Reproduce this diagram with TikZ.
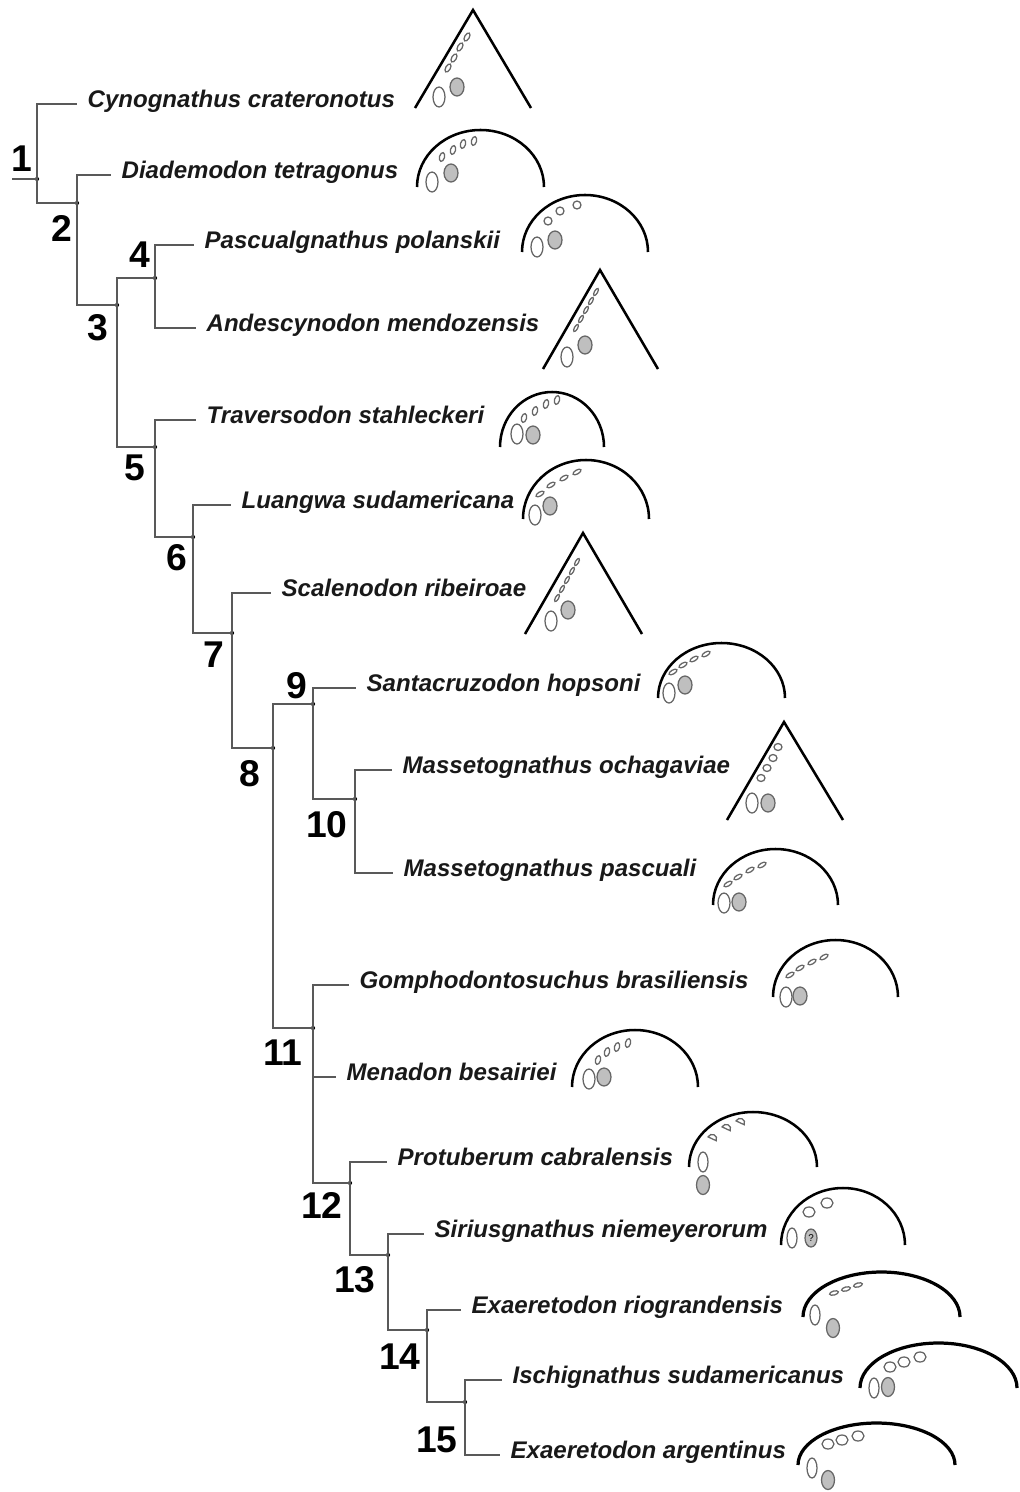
\documentclass[tikz,border=0pt]{standalone}
\usepackage{fontspec}
\setmainfont{Liberation Sans}

\begin{document}
\begin{tikzpicture}[x=0.025cm, y=-0.025cm]
        \tikzset{taxon/.style = {anchor=west, inner xsep=0.26cm, inner ysep=0pt, text height=0.74em, text depth=0.2em,
                                 font=\fontsize{17.1}{20}\selectfont\bfseries\itshape, text=black!90}}
        \tikzset{clade/.style = {circle, fill=black, inner sep=0pt, minimum size=3pt}}
        \tikzset{num/.style = {font=\fontsize{26.5}{30}\selectfont\bfseries, inner sep=0pt}}
        \tikzset{branch/.style = {draw=black!65, line width=0.9pt}}
        \tikzset{shell/.style = {draw=black, line width=1.8pt, line join=miter}}
        \tikzset{cusp/.style = {draw=black!60, line width=0.9pt, fill=white}}
        \tikzset{molar/.style = {draw=black!60, line width=0.9pt, fill=black!25}}
        \useasboundingbox (0,0) rectangle (1019,1492);
        % clades
        \coordinate (root) at (12,179);
        \node[clade] (n1) at (37,179) {};
        \node[clade] (n2) at (77,203) {};
        \node[clade] (n3) at (117,305) {};
        \node[clade] (n4) at (155,278) {};
        \node[clade] (n5) at (155,447) {};
        \node[clade] (n6) at (193,537) {};
        \node[clade] (n7) at (232,633) {};
        \node[clade] (n8) at (273,748) {};
        \node[clade] (n9) at (313,704) {};
        \node[clade] (n10) at (355,799) {};
        \node[clade] (n11) at (313,1028) {};
        \node[clade] (n12) at (350,1183) {};
        \node[clade] (n13) at (388,1255) {};
        \node[clade] (n14) at (427,1330) {};
        \node[clade] (n15) at (465,1402) {};
        % clade numbers
        \node[num] (l1) at (22,159) {1};
        \node[num] (l2) at (62,228) {2};
        \node[num] (l3) at (98,328) {3};
        \node[num] (l4) at (140,255) {4};
        \node[num] (l5) at (135,468) {5};
        \node[num] (l6) at (177,558) {6};
        \node[num] (l7) at (214,655) {7};
        \node[num] (l8) at (250,774) {8};
        \node[num] (l9) at (297,686) {9};
        \node[num] (l10) at (327,825) {10};
        \node[num] (l11) at (283,1053) {11};
        \node[num] (l12) at (322,1205) {12};
        \node[num] (l13) at (355,1280) {13};
        \node[num] (l14) at (400,1357) {14};
        \node[num] (l15) at (437,1440) {15};
        % taxa
        \node[taxon] (cyno) at (77,104) {Cynognathus crateronotus};
        \node[taxon] (diad) at (111,175) {Diademodon tetragonus};
        \node[taxon] (pasc) at (194,245) {Pascualgnathus polanskii};
        \node[taxon] (ande) at (196,328) {Andescynodon mendozensis};
        \node[taxon] (trav) at (196,420) {Traversodon stahleckeri};
        \node[taxon] (luan) at (231,505) {Luangwa sudamericana};
        \node[taxon] (scal) at (271,593) {Scalenodon ribeiroae};
        \node[taxon] (sant) at (356,688) {Santacruzodon hopsoni};
        \node[taxon] (moch) at (392,770) {Massetognathus ochagaviae};
        \node[taxon] (mpas) at (393,873) {Massetognathus pascuali};
        \node[taxon] (gomp) at (349,985) {Gomphodontosuchus brasiliensis};
        \node[taxon] (mena) at (336,1077) {Menadon besairiei};
        \node[taxon] (prot) at (387,1162) {Protuberum cabralensis};
        \node[taxon] (siri) at (424,1234) {Siriusgnathus niemeyerorum};
        \node[taxon] (erio) at (461,1310) {Exaeretodon riograndensis};
        \node[taxon] (isch) at (502,1380) {Ischignathus sudamericanus};
        \node[taxon] (earg) at (500,1455) {Exaeretodon argentinus};
        % branches
        \draw[branch] (root) -- (n1.center);
        \draw[branch] (n1.center) |- (cyno);
        \draw[branch] (n1.center) |- (n2.center);
        \draw[branch] (n2.center) |- (diad);
        \draw[branch] (n2.center) |- (n3.center);
        \draw[branch] (n3.center) |- (n4.center);
        \draw[branch] (n3.center) |- (n5.center);
        \draw[branch] (n4.center) |- (pasc);
        \draw[branch] (n4.center) |- (ande);
        \draw[branch] (n5.center) |- (trav);
        \draw[branch] (n5.center) |- (n6.center);
        \draw[branch] (n6.center) |- (luan);
        \draw[branch] (n6.center) |- (n7.center);
        \draw[branch] (n7.center) |- (scal);
        \draw[branch] (n7.center) |- (n8.center);
        \draw[branch] (n8.center) |- (n9.center);
        \draw[branch] (n8.center) |- (n11.center);
        \draw[branch] (n9.center) |- (sant);
        \draw[branch] (n9.center) |- (n10.center);
        \draw[branch] (n10.center) |- (moch);
        \draw[branch] (n10.center) |- (mpas);
        \draw[branch] (n11.center) |- (gomp);
        \draw[branch] (n11.center) |- (mena);
        \draw[branch] (n11.center) |- (n12.center);
        \draw[branch] (n12.center) |- (prot);
        \draw[branch] (n12.center) |- (n13.center);
        \draw[branch] (n13.center) |- (siri);
        \draw[branch] (n13.center) |- (n14.center);
        \draw[branch] (n14.center) |- (erio);
        \draw[branch] (n14.center) |- (n15.center);
        \draw[branch] (n15.center) |- (isch);
        \draw[branch] (n15.center) |- (earg);
        % tooth outlines
        \draw[shell] (415,108) -- (473,10) -- (531,108);
        \draw[shell] (417,187) arc[start angle=180, end angle=360, x radius=63.5, y radius=57];
        \draw[shell] (522,252) arc[start angle=180, end angle=360, x radius=63, y radius=57];
        \draw[shell] (543,369) -- (600,270) -- (658,369);
        \draw[shell] (500,447) arc[start angle=180, end angle=360, x radius=52, y radius=55];
        \draw[shell] (523,519) arc[start angle=180, end angle=360, x radius=63, y radius=59];
        \draw[shell] (525,634) -- (583,533) -- (642,634);
        \draw[shell] (658,698) arc[start angle=180, end angle=360, x radius=63.5, y radius=55];
        \draw[shell] (727,820) -- (784,722) -- (843,820);
        \draw[shell] (713,905) arc[start angle=180, end angle=360, x radius=62.5, y radius=56];
        \draw[shell] (773,997) arc[start angle=180, end angle=360, x radius=62.5, y radius=57];
        \draw[shell] (572,1087) arc[start angle=180, end angle=360, x radius=63, y radius=57];
        \draw[shell] (689,1167) arc[start angle=180, end angle=360, x radius=64, y radius=55];
        \draw[shell] (781,1245) arc[start angle=180, end angle=360, x radius=62, y radius=57];
        \draw[shell, line width=2.3pt] (803,1317) arc[start angle=180, end angle=360, x radius=78.5, y radius=45];
        \draw[shell, line width=2.3pt] (860,1388) arc[start angle=180, end angle=360, x radius=78.5, y radius=45];
        \draw[shell, line width=2.3pt] (798,1465) arc[start angle=180, end angle=360, x radius=78.5, y radius=42];
        % small cusps
        \foreach \x/\y in {448/68, 454/58, 460/47, 467/37}
            \draw[cusp, shift={(\x,\y)}, rotate=-30] (0,0) ellipse[x radius=2.3, y radius=4.5];
        \foreach \x/\y in {442/157, 453/150, 463/144, 474/141, 598/1060, 607/1052, 617/1047, 628/1043}
            \draw[cusp, shift={(\x,\y)}, rotate=-15] (0,0) ellipse[x radius=2.5, y radius=4.5];
        \foreach \x/\y in {524/418, 535/411, 546/404, 557/400}
            \draw[cusp, shift={(\x,\y)}, rotate=-15] (0,0) ellipse[x radius=2.5, y radius=4.5];
        \foreach \x/\y in {548/221, 560/211, 577/205}
            \draw[cusp] (\x,\y) circle[radius=4];
        \foreach \x/\y in {576/328, 581/319, 586/310, 591/301, 596/292, 557/598, 562/589, 567/580, 572/571, 577/562}
            \draw[cusp, shift={(\x,\y)}, rotate=60] (0,0) ellipse[x radius=4, y radius=1.6];
        \foreach \x/\y in {540/494, 551/485, 564/478, 577/472, 673/672, 683/665, 694/659, 706/654, 728/884, 738/877, 750/870, 762/865, 790/975, 800/968, 812/962, 824/957}
            \draw[cusp, shift={(\x,\y)}, rotate=30] (0,0) ellipse[x radius=4.5, y radius=2];
        \foreach \x/\y in {834/1293, 846/1289, 858/1285}
            \draw[cusp, shift={(\x,\y)}, rotate=15] (0,0) ellipse[x radius=4.5, y radius=2];
        \foreach \x/\y in {778/747, 773/758, 767/768, 761/778}
            \draw[cusp] (\x,\y) ellipse[x radius=4, y radius=3.5];
        \foreach \x/\y in {713/1137, 727/1127, 741/1121}
            \draw[cusp, shift={(\x,\y)}, rotate=-25] (-4.5,2) arc[start angle=180, end angle=360, x radius=4.5, y radius=4.5] -- cycle;
        \foreach \x/\y in {809/1212, 827/1203}
            \draw[cusp] (\x,\y) ellipse[x radius=6, y radius=5];
        \foreach \x/\y in {890/1367, 904/1362, 920/1357, 828/1444, 842/1440, 858/1436}
            \draw[cusp] (\x,\y) ellipse[x radius=6, y radius=5];
        % canines and molars
        \foreach \x/\y in {439/97, 432/182, 537/247, 567/357, 517/434, 535/515, 551/621, 669/693, 752/803, 724/903, 786/997, 589/1079}
            \draw[cusp] (\x,\y) ellipse[x radius=6, y radius=10];
        \foreach \x/\y in {703/1162, 792/1238, 815/1315, 874/1388, 812/1468}
            \draw[cusp] (\x,\y) ellipse[x radius=5, y radius=10];
        \foreach \x/\y in {457/87, 451/173, 555/240, 585/345, 533/435, 550/506, 568/610, 685/685, 768/803, 739/902, 800/996, 604/1077}
            \draw[molar] (\x,\y) ellipse[x radius=7, y radius=9];
        \foreach \x/\y in {703/1185, 833/1328, 888/1387, 828/1480}
            \draw[molar] (\x,\y) ellipse[x radius=6.5, y radius=9.5];
        \draw[molar] (811,1238) ellipse[x radius=6, y radius=9];
        \node[font=\fontsize{7}{7}\selectfont, inner sep=0pt] (q) at (811,1238) {?};
\end{tikzpicture}
\end{document}
